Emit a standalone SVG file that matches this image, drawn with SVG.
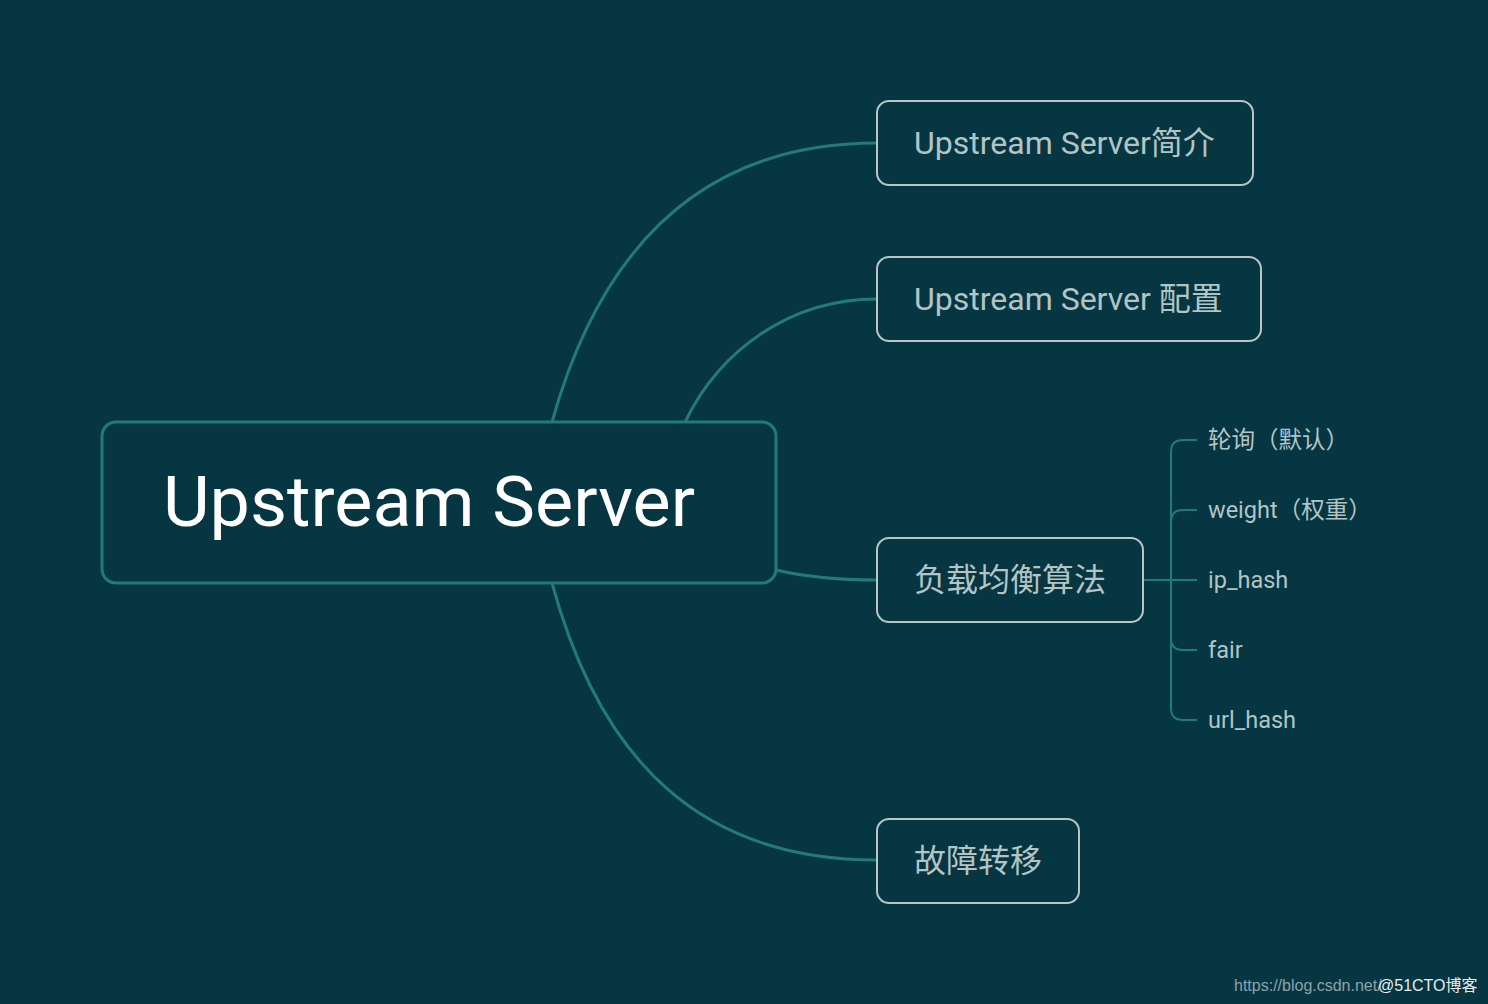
<svg xmlns="http://www.w3.org/2000/svg" width="1488" height="1004" viewBox="0 0 1488 1004">
<style>
.bg{fill:#053642}
.conn{fill:none;stroke:#237b78;stroke-width:3}
.sub{fill:none;stroke:#237b78;stroke-width:2}
.box{fill:#053642;stroke:#b9c6c6;stroke-width:2}
.t{font-family:Roboto,"Noto Sans CJK SC",sans-serif;fill:#b3c4c4}
.lbl{font-size:32px}
.leaf{font-size:23.5px}
</style>
<rect class="bg" x="0" y="0" width="1488" height="1004"/>
<g id="connectors">
<path class="conn" d="M552,422 C600,250 700,143 877,143"/>
<path class="conn" d="M685,422 C720,350 790,299 877,299"/>
<path class="conn" d="M776,570 C810,578 840,580 877,580"/>
<path class="conn" d="M552,583 C600,760 700,860 877,860"/>
<path class="sub" d="M1143,580 H1197"/>
<path class="sub" d="M1197,440 H1183 Q1171,440 1171,452 V708 Q1171,720 1183,720 H1197"/>
<path class="sub" d="M1171,522 Q1171,510 1183,510 H1197"/>
<path class="sub" d="M1171,638 Q1171,650 1183,650 H1197"/>
</g>
<g id="root">
<rect x="102" y="422" width="674" height="161" rx="14" fill="#053642" stroke="#237b78" stroke-width="3"/>
<text x="163" y="526" font-family="Roboto,sans-serif" font-size="71" fill="#ffffff" textLength="532" lengthAdjust="spacingAndGlyphs">Upstream Server</text>
</g>
<g id="n1">
<rect class="box" x="877" y="101" width="376" height="84" rx="12"/>
<text class="t lbl" x="914" y="154">Upstream Server简介</text>
</g>
<g id="n2">
<rect class="box" x="877" y="257" width="384" height="84" rx="12"/>
<text class="t lbl" x="914" y="310">Upstream Server 配置</text>
</g>
<g id="n3">
<rect class="box" x="877" y="538" width="266" height="84" rx="12"/>
<text class="t lbl" x="914" y="591">负载均衡算法</text>
</g>
<g id="n4">
<rect class="box" x="877" y="819" width="202" height="84" rx="12"/>
<text class="t lbl" x="914" y="872">故障转移</text>
</g>
<g id="l1"><text class="t leaf" x="1208" y="448">轮询（默认）</text></g>
<g id="l2"><text class="t leaf" x="1208" y="518">weight（权重）</text></g>
<g id="l3"><text class="t leaf" x="1208" y="588">ip_hash</text></g>
<g id="l4"><text class="t leaf" x="1208" y="658">fair</text></g>
<g id="l5"><text class="t leaf" x="1208" y="728">url_hash</text></g>
<text x="1234" y="991" font-family="'Liberation Sans','Noto Sans CJK SC',sans-serif" font-size="16" fill="#8fa3a8">https://blog.csdn.net/</text>
<text x="1378" y="991" font-family="'Liberation Sans','Noto Sans CJK SC',sans-serif" font-size="16" fill="#e8eeee">@51CTO博客</text>
</svg>
